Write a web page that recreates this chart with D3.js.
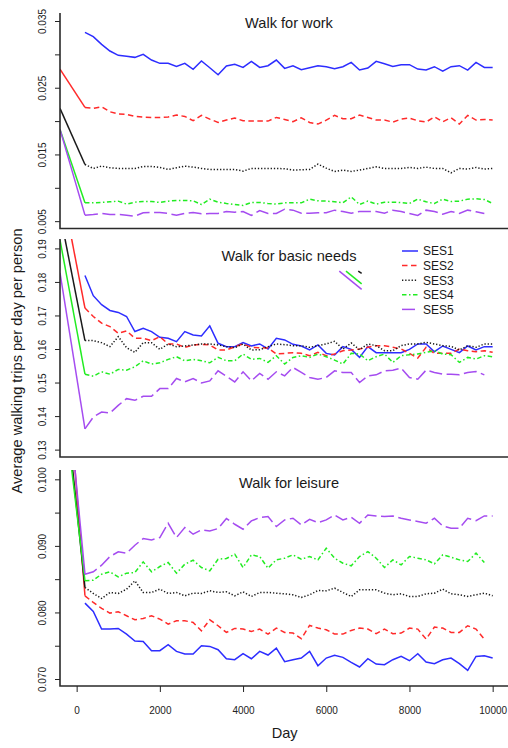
<!DOCTYPE html>
<html>
<head>
<meta charset="utf-8">
<style>
body { margin: 0; background: #fff; }
svg { display: block; font-family: "Liberation Sans", Arial, sans-serif; }
</style>
</head>
<body>
<svg width="508" height="748"></svg>
<script src="https://d3js.org/d3.v7.min.js"></script>
<script>

// simulation days (one reading every 200 days)
var days = [200,400,600,800,1000,1200,1400,1600,1800,2000,
  2200,2400,2600,2800,3000,3200,3400,3600,3800,4000,
  4200,4400,4600,4800,5000,5200,5400,5600,5800,6000,
  6200,6400,6600,6800,7000,7200,7400,7600,7800,8000,
  8200,8400,8600,8800,9000,9200,9400,9600,9800,10000];

var groups = ["SES1", "SES2", "SES3", "SES4", "SES5"];

// initial value of each group, before the first reading
var startDay = -400;

// ---- Walk for work ----
var workSES1 = [0.0333,0.03265,0.0315,0.0305,0.02985,0.0297,0.02955,0.0300,0.02915,0.02865,
  0.02865,0.0282,0.02865,0.02775,0.029,0.028,0.02695,0.02825,0.0285,0.02805,
  0.02895,0.02805,0.0283,0.02915,0.0279,0.0283,0.0277,0.028,0.0283,0.02815,
  0.02785,0.02815,0.0288,0.02765,0.02795,0.02895,0.0286,0.0282,0.02845,0.02845,
  0.0278,0.02765,0.02815,0.0275,0.02815,0.0283,0.02765,0.0288,0.02805,0.02805];
var workSES2 = [0.02205,0.0219,0.02215,0.0214,0.02105,0.021,0.0207,0.0206,0.02055,0.02055,
  0.0206,0.0209,0.0207,0.02005,0.02085,0.0203,0.0198,0.02015,0.02045,0.02005,
  0.02,0.02,0.02,0.02055,0.02025,0.0199,0.0205,0.0198,0.01955,0.02015,
  0.02085,0.02035,0.02035,0.0209,0.02055,0.02015,0.02015,0.01985,0.0203,0.02045,
  0.02005,0.01985,0.02065,0.0199,0.0205,0.01955,0.02085,0.02015,0.02025,0.02015];
var workSES3 = [0.0135,0.0129,0.01325,0.013,0.0129,0.0129,0.0129,0.0132,0.0132,0.01305,
  0.01275,0.013,0.01325,0.0131,0.0129,0.01275,0.01275,0.01275,0.01275,0.0125,
  0.0129,0.0129,0.0129,0.0129,0.01285,0.01265,0.0127,0.01275,0.01355,0.01295,
  0.01245,0.01265,0.01245,0.01265,0.0129,0.01315,0.0129,0.0129,0.0129,0.01305,
  0.0129,0.0131,0.0129,0.0129,0.01225,0.0129,0.0128,0.01305,0.0128,0.0129];
var workSES4 = [0.00775,0.00775,0.0078,0.0079,0.008,0.00755,0.00785,0.00795,0.00795,0.0078,
  0.008,0.0081,0.0081,0.00805,0.0075,0.0083,0.00785,0.00765,0.0075,0.00735,
  0.0078,0.0078,0.00765,0.00755,0.00775,0.00775,0.00775,0.0083,0.00805,0.008,
  0.0079,0.00775,0.00865,0.0075,0.008,0.00755,0.00785,0.00785,0.0078,0.00765,
  0.0083,0.0079,0.00765,0.0083,0.00795,0.008,0.0083,0.00835,0.00825,0.00765];
var workSES5 = [0.0059,0.006,0.00615,0.006,0.006,0.0059,0.00575,0.00625,0.0063,0.0063,
  0.00615,0.0059,0.00615,0.0063,0.0061,0.00615,0.00615,0.00645,0.00635,0.00645,
  0.00585,0.0066,0.00615,0.00615,0.0068,0.00665,0.0062,0.0062,0.00625,0.00625,
  0.00665,0.00645,0.0062,0.00645,0.00645,0.00645,0.0062,0.00665,0.00645,0.00615,
  0.00585,0.00665,0.00645,0.00605,0.00645,0.00615,0.00665,0.0064,0.00615];
var workStart = [null, 0.0278, 0.0219, 0.01875, 0.01875];

// ---- Walk for basic needs ----
var needsSES1 = [0.1819,0.1759,0.1732,0.1715,0.1709,0.1697,0.1652,0.1662,0.1652,0.1635,
  0.1632,0.1622,0.1652,0.1642,0.1639,0.1669,0.1617,0.1607,0.1607,0.1619,
  0.1609,0.1615,0.16,0.1632,0.1627,0.1614,0.1609,0.1597,0.1612,0.1587,
  0.1582,0.1607,0.1599,0.1575,0.1607,0.1589,0.1589,0.1589,0.1589,0.1599,
  0.1615,0.1615,0.1592,0.1609,0.1599,0.1589,0.1609,0.1597,0.1607,0.1607];
var needsSES2 = [0.1722,0.1697,0.1677,0.1667,0.1647,0.1654,0.1632,0.1632,0.1625,0.1637,
  0.1615,0.1615,0.1605,0.1612,0.1614,0.1612,0.1597,0.1597,0.1607,0.1615,
  0.1605,0.1604,0.1603,0.1585,0.1587,0.1589,0.1587,0.158,0.159,0.158,
  0.1585,0.1595,0.1597,0.16,0.1605,0.161,0.161,0.1605,0.16,0.1587,
  0.1573,0.1605,0.1587,0.1587,0.1587,0.16,0.1595,0.1592,0.1595,0.159];
var needsSES3 = [0.1625,0.1625,0.1619,0.1607,0.1637,0.1604,0.159,0.1619,0.1619,0.1599,
  0.1615,0.1607,0.1609,0.1612,0.1615,0.1615,0.1612,0.1607,0.1604,0.1615,
  0.1597,0.1598,0.1607,0.1615,0.1613,0.161,0.161,0.1605,0.161,0.1615,
  0.1623,0.16,0.1618,0.1598,0.1615,0.161,0.1595,0.1595,0.161,0.1615,
  0.1615,0.162,0.1615,0.161,0.1608,0.1597,0.161,0.1605,0.1615,0.1615];
var needsSES4 = [0.1525,0.1519,0.1532,0.1525,0.1539,0.1537,0.1547,0.1565,0.1555,0.1559,
  0.1569,0.1577,0.1565,0.1569,0.1565,0.1559,0.1575,0.1565,0.1565,0.1585,
  0.1569,0.1572,0.156,0.158,0.1555,0.1575,0.158,0.1575,0.1585,0.1577,
  0.1567,0.1555,0.1587,0.1585,0.1565,0.1577,0.1585,0.156,0.158,0.1583,
  0.1585,0.159,0.1595,0.1585,0.1583,0.156,0.1575,0.157,0.158,0.1577];
var needsSES5 = [0.1362,0.1397,0.1412,0.1409,0.1432,0.1452,0.1447,0.1459,0.1459,0.1482,
  0.1482,0.1512,0.1502,0.1512,0.1499,0.1505,0.1535,0.1519,0.1502,0.1532,
  0.1505,0.1527,0.151,0.1532,0.152,0.1545,0.153,0.1515,0.151,0.1515,
  0.1535,0.153,0.153,0.15,0.152,0.1523,0.1535,0.1537,0.1543,0.1515,
  0.151,0.1537,0.153,0.1525,0.1525,0.1523,0.153,0.1533,0.1523];
var needsStart = [null, 0.2108, 0.2004, 0.1925, 0.1827];

// ---- Walk for leisure ----
var leisureSES1 = [0.0814,0.08015,0.0775,0.0775,0.0776,0.07675,0.0757,0.07565,0.07425,0.07425,
  0.07515,0.07415,0.07375,0.07375,0.075,0.0749,0.0744,0.07305,0.0729,0.0738,
  0.07305,0.07415,0.0736,0.07465,0.0726,0.0729,0.07315,0.07415,0.072,0.07315,
  0.07355,0.07325,0.0725,0.0718,0.07305,0.07225,0.07215,0.0729,0.0734,0.07275,
  0.0738,0.07255,0.0723,0.0729,0.07315,0.0723,0.0713,0.0734,0.0735,0.07315];
var leisureSES2 = [0.0825,0.0815,0.0806,0.0799,0.0801,0.0795,0.0789,0.0791,0.0795,0.079,
  0.07825,0.07875,0.07875,0.0785,0.07725,0.0789,0.078,0.077,0.0776,0.0775,
  0.07715,0.0775,0.07675,0.07765,0.077,0.0769,0.07605,0.07805,0.07765,0.0774,
  0.07675,0.07675,0.0773,0.07765,0.0775,0.0768,0.0775,0.0768,0.0769,0.07765,
  0.0775,0.076,0.0778,0.07765,0.077,0.077,0.078,0.0775,0.076];
var leisureSES3 = [0.08375,0.08285,0.0821,0.083,0.08285,0.0835,0.08475,0.083,0.083,0.0835,
  0.08285,0.083,0.0825,0.0829,0.08285,0.08325,0.083,0.0831,0.0825,0.0831,
  0.0824,0.083,0.083,0.0829,0.0828,0.08265,0.08225,0.08265,0.0833,0.08325,
  0.08365,0.083,0.0824,0.0834,0.0834,0.0834,0.0829,0.08265,0.0828,0.0824,
  0.0824,0.0828,0.0829,0.0835,0.0828,0.08265,0.0824,0.08265,0.0829,0.0825];
var leisureSES4 = [0.08475,0.08485,0.08575,0.0861,0.08535,0.0859,0.086,0.0876,0.0861,0.0869,
  0.0875,0.0859,0.08725,0.08785,0.08675,0.08625,0.088,0.0881,0.08875,0.08675,
  0.08865,0.0884,0.08665,0.0879,0.08815,0.08865,0.088,0.0884,0.0879,0.08965,
  0.08815,0.0874,0.087,0.0884,0.08915,0.08815,0.08675,0.0879,0.08715,0.0884,
  0.08815,0.0879,0.0873,0.08865,0.0883,0.0879,0.08765,0.0889,0.0875];
var leisureSES5 = [0.08575,0.0861,0.0871,0.0884,0.0891,0.0889,0.0901,0.0911,0.0909,0.09125,
  0.0934,0.09125,0.09275,0.09175,0.0924,0.09225,0.0926,0.0941,0.09325,0.0925,
  0.09375,0.09425,0.0944,0.0929,0.0939,0.09415,0.09315,0.094,0.0935,0.0939,
  0.09465,0.0939,0.0943,0.0934,0.09465,0.0945,0.0944,0.0945,0.09415,0.0939,
  0.09365,0.0934,0.09415,0.093,0.09265,0.09265,0.09415,0.0938,0.0945,0.0945];
var leisureStart = [null, 0.13, 0.11975, 0.11625, 0.1251];

// stray line pieces left in the basic needs panel: [group, [day, value], [day, value]]
var needsStray = [
  [4, [6313, 0.18322], [6851, 0.17776]],
  [3, [6474, 0.18322], [6851, 0.17943]],
  [2, [6769, 0.18322], [6851, 0.18254]]
];

// axis ticks
var dayTicks = [0, 2000, 4000, 6000, 8000, 10000];
var workTicks = [0.005, 0.010, 0.015, 0.020, 0.025, 0.030, 0.035];
var workTickLabels = ["0.005", "", "0.015", "", "0.025", "", "0.035"];
var needsTicks = [0.13, 0.14, 0.15, 0.16, 0.17, 0.18, 0.19];
var needsTickLabels = ["0.13", "0.14", "0.15", "0.16", "0.17", "0.18", "0.19"];
var leisureTicks = [0.070, 0.075, 0.080, 0.085, 0.090, 0.095, 0.100];
var leisureTickLabels = ["0.070", "", "0.080", "", "0.090", "", "0.100"];

var colors = ["#2d2dff", "#ff2a2a", "#1a1a1a", "#22ec22", "#a54cf0"];
var dashes = [null, "5.5,3.5", "1.3,1.9", "4.5,2.5,1.5,2.5", "13,4.5"];

var svg = d3.select("svg");
var left = 60, right = 509.3;

var x = d3.scaleLinear()
    .domain([-400, 10400])
    .range([left, right]);

var panels = [
  { title: "Walk for work", top: 13, bottom: 228.5, domain: [0.0039, 0.0362], titleY: 28,
    series: [workSES1, workSES2, workSES3, workSES4, workSES5], start: workStart,
    ticks: workTicks, labels: workTickLabels, stray: [] },
  { title: "Walk for basic needs", top: 239, bottom: 457, domain: [0.1278, 0.1928], titleY: 260.7,
    series: [needsSES1, needsSES2, needsSES3, needsSES4, needsSES5], start: needsStart,
    ticks: needsTicks, labels: needsTickLabels, stray: needsStray },
  { title: "Walk for leisure", top: 470, bottom: 686, domain: [0.06895, 0.1014], titleY: 488.3,
    series: [leisureSES1, leisureSES2, leisureSES3, leisureSES4, leisureSES5], start: leisureStart,
    ticks: leisureTicks, labels: leisureTickLabels, stray: [] }
];

var line = d3.line();

panels.forEach(function(p, pi) {
  var y = d3.scaleLinear()
      .domain(p.domain)
      .range([p.bottom, p.top]);

  svg.append("clipPath")
      .attr("id", "clip" + pi)
    .append("rect")
      .attr("x", left)
      .attr("y", p.top)
      .attr("width", right - left)
      .attr("height", p.bottom - p.top);

  var g = svg.append("g")
      .attr("clip-path", "url(#clip" + pi + ")")
      .attr("fill", "none")
      .attr("stroke-width", 1.5);

  p.series.forEach(function(vals, i) {
    var pts = vals.map(function(v, k) { return [x(days[k]), y(v)]; });
    if (p.start[i] != null) {
      g.append("path")
          .attr("stroke", colors[i])
          .attr("d", line([[x(startDay), y(p.start[i])], pts[0]]));
    }
    g.append("path")
        .attr("stroke", colors[i])
        .attr("stroke-dasharray", dashes[i])
        .attr("d", line(pts));
  });

  p.stray.forEach(function(s) {
    g.append("path")
        .attr("stroke", colors[s[0]])
        .attr("d", line([[x(s[1][0]), y(s[1][1])], [x(s[2][0]), y(s[2][1])]]));
  });

  // y axis
  var ax = svg.append("g")
      .attr("transform", "translate(" + left + ",0)")
      .call(d3.axisLeft(y)
        .tickValues(p.ticks)
        .tickSize(5)
        .tickFormat(function(d, k) { return p.labels[k]; }));
  ax.select(".domain").remove();
  ax.selectAll("line").attr("stroke", "#222");
  ax.selectAll("text")
      .attr("x", null)
      .attr("dy", null)
      .attr("text-anchor", "middle")
      .attr("transform", "translate(-14.5,0) rotate(-90)")
      .attr("font-size", 10)
      .attr("font-family", "Liberation Sans, Arial, sans-serif")
      .attr("fill", "#222");

  // L-shaped frame
  svg.append("path")
      .attr("fill", "none")
      .attr("stroke", "#2a2a2a")
      .attr("stroke-width", 1.6)
      .attr("d", "M" + left + "," + p.top + "V" + p.bottom + "H" + right);

  svg.append("text")
      .attr("x", 289)
      .attr("y", p.titleY)
      .attr("text-anchor", "middle")
      .attr("font-size", 14.6)
      .attr("fill", "#1a1a1a")
      .text(p.title);

  if (pi === panels.length - 1) {
    var bx = svg.append("g")
        .attr("transform", "translate(0," + p.bottom + ")")
        .call(d3.axisBottom(x)
          .tickValues(dayTicks)
          .tickSize(6)
          .tickPadding(15)
          .tickFormat(d3.format("d")));
    bx.select(".domain").remove();
    bx.selectAll("line").attr("stroke", "#222");
    bx.selectAll("text")
        .attr("font-size", 10)
        .attr("font-family", "Liberation Sans, Arial, sans-serif")
        .attr("fill", "#222");
  }
});

// legend inside the basic needs panel
var legend = svg.append("g")
    .attr("transform", "translate(402,251)");

groups.forEach(function(name, i) {
  var row = legend.append("g")
      .attr("transform", "translate(0," + (i * 14.6) + ")");
  row.append("line")
      .attr("x1", 0)
      .attr("x2", 16)
      .attr("stroke", colors[i])
      .attr("stroke-width", 1.5)
      .attr("stroke-dasharray", dashes[i]);
  row.append("text")
      .attr("x", 21)
      .attr("dy", "0.36em")
      .attr("font-size", 12)
      .attr("fill", "#1a1a1a")
      .text(name);
});

svg.append("text")
    .attr("transform", "translate(21.5,361) rotate(-90)")
    .attr("text-anchor", "middle")
    .attr("font-size", 14.6)
    .attr("fill", "#1a1a1a")
    .text("Average walking trips per day per person");

svg.append("text")
    .attr("x", x(5000))
    .attr("y", 738)
    .attr("text-anchor", "middle")
    .attr("font-size", 14.6)
    .attr("fill", "#1a1a1a")
    .text("Day");

</script>
</body>
</html>
